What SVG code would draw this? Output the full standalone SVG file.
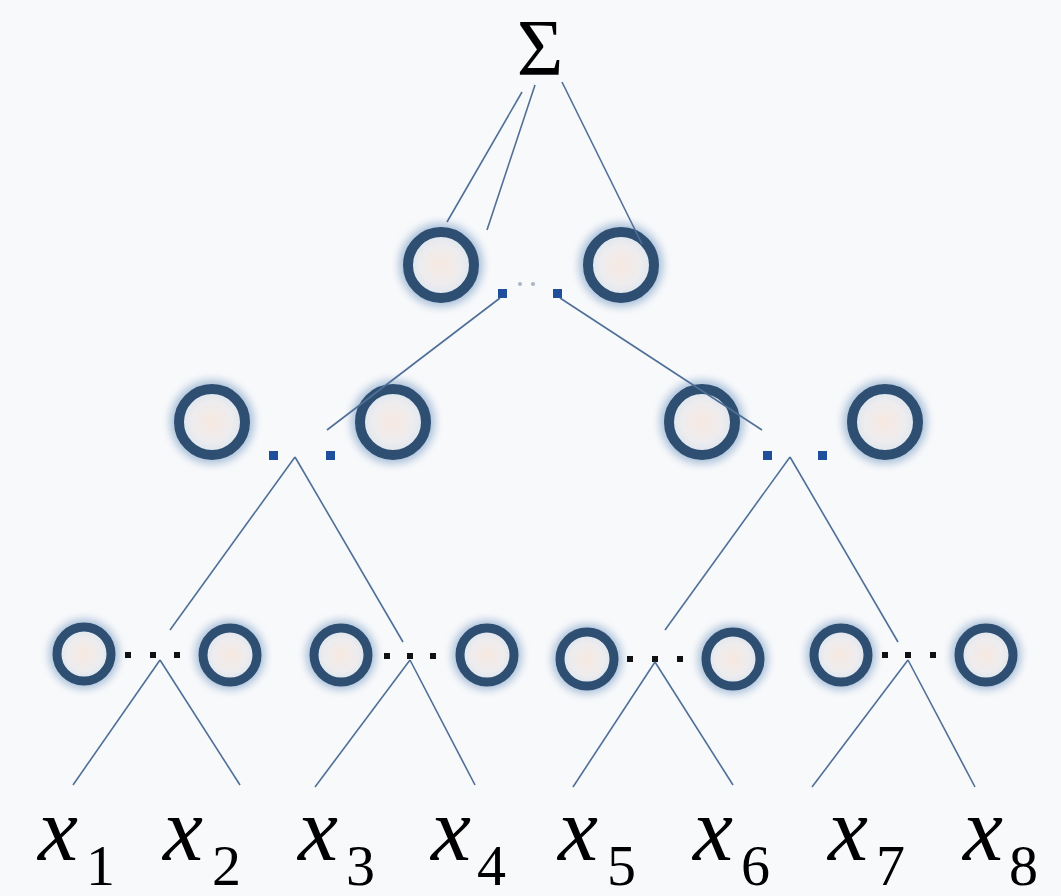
<svg xmlns="http://www.w3.org/2000/svg" width="1061" height="896" viewBox="0 0 1061 896">
<defs>
<filter id="blur" x="-50%" y="-50%" width="200%" height="200%"><feGaussianBlur stdDeviation="4"/></filter>
<radialGradient id="fillg" cx="0.5" cy="0.5" r="0.5">
<stop offset="0" stop-color="#f6e8e0"/>
<stop offset="0.6" stop-color="#eeecee"/>
<stop offset="1" stop-color="#d9e5f0"/>
</radialGradient>
<style>
.halo{fill:none;stroke:#a9c0d9;filter:url(#blur)}
.ring{fill:url(#fillg);stroke:#2f4f72}
.big .halo{stroke-width:18}
.big .ring{stroke-width:10}
.small .halo{stroke-width:16}
.small .ring{stroke-width:9}
.edge{stroke:#4f6f98;stroke-width:1.6;fill:none}
.bd{fill:#1f4f9c}
.kd{fill:#111}
.lbl{font-family:"Liberation Serif",serif;fill:#000}
.x{font-style:italic;font-size:90px}
.sub{font-size:58px}
</style>
</defs>
<rect width="1061" height="896" fill="#f8f9fb"/>

<g id="sum"><text class="lbl" x="540" y="75" font-size="80" text-anchor="middle">Σ</text></g>

<g id="n1a" class="big"><circle class="halo" cx="441" cy="265" r="33"/><circle class="ring" cx="441" cy="265" r="33"/></g>
<g id="n1b" class="big"><circle class="halo" cx="621" cy="265" r="33"/><circle class="ring" cx="621" cy="265" r="33"/></g>
<g id="d1"><rect class="bd" x="498" y="289" width="9" height="9"/><rect class="bd" x="553" y="289" width="9" height="9"/><circle cx="520" cy="284" r="2" fill="#aab6c4"/><circle cx="533" cy="284" r="2" fill="#aab6c4"/></g>

<g id="n2a" class="big"><circle class="halo" cx="212" cy="422" r="33"/><circle class="ring" cx="212" cy="422" r="33"/></g>
<g id="n2b" class="big"><circle class="halo" cx="393" cy="422" r="33"/><circle class="ring" cx="393" cy="422" r="33"/></g>
<g id="n2c" class="big"><circle class="halo" cx="702" cy="422" r="33"/><circle class="ring" cx="702" cy="422" r="33"/></g>
<g id="n2d" class="big"><circle class="halo" cx="885" cy="422" r="33"/><circle class="ring" cx="885" cy="422" r="33"/></g>
<g id="d2"><rect class="bd" x="269" y="451" width="9" height="9"/><rect class="bd" x="326" y="451" width="9" height="9"/><rect class="bd" x="763" y="451" width="9" height="9"/><rect class="bd" x="818" y="451" width="9" height="9"/></g>

<g id="n3a" class="small"><circle class="halo" cx="84" cy="654" r="27"/><circle class="ring" cx="84" cy="654" r="27"/></g>
<g id="n3b" class="small"><circle class="halo" cx="230" cy="655" r="27"/><circle class="ring" cx="230" cy="655" r="27"/></g>
<g id="n3c" class="small"><circle class="halo" cx="341" cy="655" r="27"/><circle class="ring" cx="341" cy="655" r="27"/></g>
<g id="n3d" class="small"><circle class="halo" cx="487" cy="655" r="27"/><circle class="ring" cx="487" cy="655" r="27"/></g>
<g id="n3e" class="small"><circle class="halo" cx="587" cy="659" r="27"/><circle class="ring" cx="587" cy="659" r="27"/></g>
<g id="n3f" class="small"><circle class="halo" cx="733" cy="659" r="27"/><circle class="ring" cx="733" cy="659" r="27"/></g>
<g id="n3g" class="small"><circle class="halo" cx="841" cy="655" r="27"/><circle class="ring" cx="841" cy="655" r="27"/></g>
<g id="n3h" class="small"><circle class="halo" cx="986" cy="655" r="27"/><circle class="ring" cx="986" cy="655" r="27"/></g>
<g id="d3">
<rect class="kd" x="125" y="652" width="6" height="6"/><rect class="kd" x="150" y="652" width="6" height="6"/><rect class="kd" x="174" y="652" width="6" height="6"/>
<rect class="kd" x="384" y="653" width="6" height="6"/><rect class="kd" x="407" y="653" width="6" height="6"/><rect class="kd" x="430" y="653" width="6" height="6"/>
<rect class="kd" x="627" y="656" width="6" height="6"/><rect class="kd" x="652" y="656" width="6" height="6"/><rect class="kd" x="677" y="656" width="6" height="6"/>
<rect class="kd" x="882" y="652" width="6" height="6"/><rect class="kd" x="905" y="652" width="6" height="6"/><rect class="kd" x="930" y="652" width="6" height="6"/>
</g>

<g id="connectors">
<line class="edge" x1="522" y1="92" x2="447" y2="222"/>
<line class="edge" x1="535" y1="85" x2="487" y2="230"/>
<line class="edge" x1="562" y1="82" x2="642" y2="244"/>
<line class="edge" x1="500" y1="298" x2="327" y2="430"/>
<line class="edge" x1="560" y1="298" x2="762" y2="430"/>
<line class="edge" x1="295" y1="457" x2="170" y2="630"/>
<line class="edge" x1="295" y1="457" x2="403" y2="642"/>
<line class="edge" x1="790" y1="457" x2="665" y2="630"/>
<line class="edge" x1="790" y1="457" x2="898" y2="642"/>
<line class="edge" x1="160" y1="660" x2="73" y2="785"/>
<line class="edge" x1="160" y1="660" x2="240" y2="785"/>
<line class="edge" x1="410" y1="660" x2="315" y2="787"/>
<line class="edge" x1="410" y1="660" x2="475" y2="785"/>
<line class="edge" x1="655" y1="662" x2="573" y2="787"/>
<line class="edge" x1="655" y1="662" x2="733" y2="785"/>
<line class="edge" x1="908" y1="660" x2="812" y2="787"/>
<line class="edge" x1="908" y1="660" x2="975" y2="787"/>
</g>

<g id="labels" class="lbl">
<text x="38" y="860"><tspan class="x">x</tspan></text><text x="86" y="885" class="sub lbl">1</text>
<text x="163" y="860"><tspan class="x">x</tspan></text><text x="212" y="885" class="sub lbl">2</text>
<text x="298" y="860"><tspan class="x">x</tspan></text><text x="346" y="885" class="sub lbl">3</text>
<text x="431" y="860"><tspan class="x">x</tspan></text><text x="477" y="885" class="sub lbl">4</text>
<text x="558" y="860"><tspan class="x">x</tspan></text><text x="607" y="885" class="sub lbl">5</text>
<text x="693" y="860"><tspan class="x">x</tspan></text><text x="741" y="885" class="sub lbl">6</text>
<text x="828" y="860"><tspan class="x">x</tspan></text><text x="876" y="885" class="sub lbl">7</text>
<text x="963" y="860"><tspan class="x">x</tspan></text><text x="1009" y="885" class="sub lbl">8</text>
</g>
</svg>
